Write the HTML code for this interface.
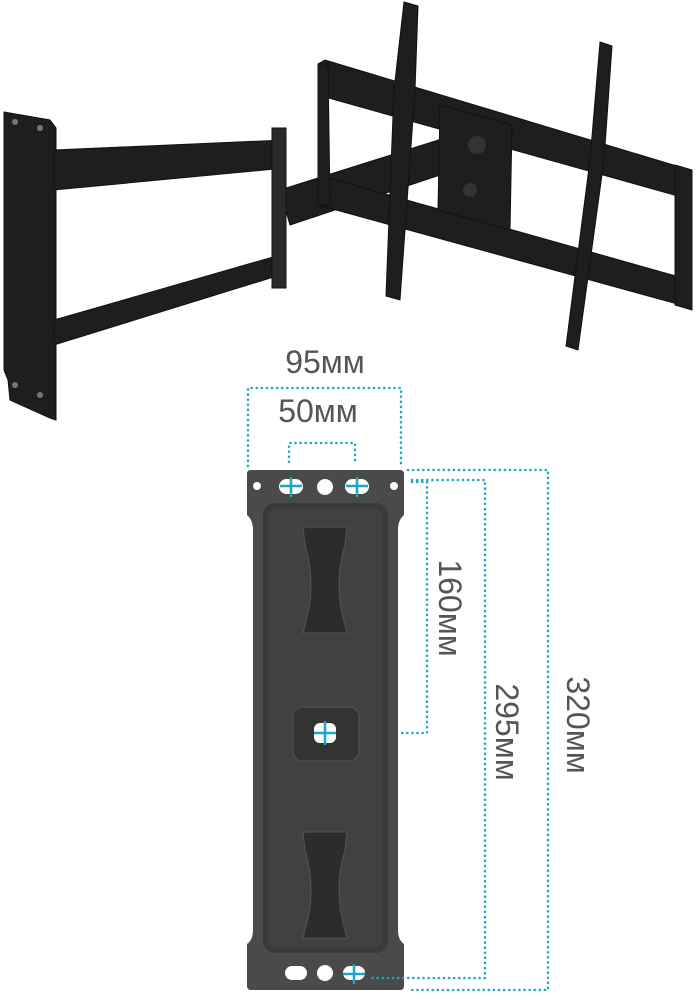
<!DOCTYPE html>
<html><head><meta charset="utf-8"><style>
html,body{margin:0;padding:0;background:#fff;}
svg{display:block;}
text{font-family:"Liberation Sans",sans-serif;fill:#555;font-weight:300;}
</style></head><body>
<svg width="697" height="1000" viewBox="0 0 697 1000" xmlns="http://www.w3.org/2000/svg">
<g fill="#1e1e1e" stroke="#111" stroke-width="1">
  <polygon points="4,112 50,120 56,128 56,420 50,418 10,400 8,380 4,370"/>
  <polygon points="54,150 285,140 285,168 54,190"/>
  <polygon points="54,320 280,255 280,275 54,345"/>
  <polygon points="280,190 470,130 470,165 290,225"/>
  <rect x="272" y="128" width="14" height="160" fill="#2a2a2a"/>
  <polygon points="318,64 325,60 690,170 692,200 318,95"/>
  <polygon points="318,175 690,280 692,308 318,205"/>
  <polygon points="318,64 328,64 330,205 318,205"/>
  <polygon points="675,165 692,170 692,310 675,305"/>
  <polygon points="404,2 418,6 415,90 400,300 386,296 394,90"/>
  <polygon points="600,42 612,46 604,160 578,350 566,346 590,160"/>
  <polygon points="440,105 512,125 510,230 438,210"/>
</g>
<g fill="#777">
  <circle cx="15" cy="122" r="3"/><circle cx="40" cy="128" r="3"/>
  <circle cx="15" cy="385" r="3"/><circle cx="40" cy="395" r="3"/>
  <circle cx="477" cy="145" r="9" fill="#333"/><circle cx="470" cy="190" r="7" fill="#333"/>
</g>
<path d="M247,474 Q247,470 251,470 L400,470 Q404,470 404,474 L404,515 Q398,520 398,530 L398,930 Q398,940 404,944 L404,986 Q404,990 400,990 L251,990 Q247,990 247,986 L247,944 Q253,940 253,930 L253,530 Q253,520 247,515 Z" fill="#4a4a4a"/>
<rect x="263" y="503" width="125" height="450" rx="12" fill="#3a3a3a"/>
<rect x="268" y="508" width="115" height="440" rx="10" fill="#414141"/>
<circle cx="257" cy="486" r="4" fill="#fff"/><circle cx="394" cy="486" r="4" fill="#fff"/>
<circle cx="325" cy="487" r="8" fill="#fff"/>
<rect x="279" y="479" width="24" height="15" rx="7.5" fill="#fff"/>
<rect x="345" y="479" width="24" height="15" rx="7.5" fill="#fff"/>
<circle cx="325" cy="973" r="8" fill="#fff"/>
<rect x="285" y="966" width="22" height="14" rx="7" fill="#fff"/>
<rect x="343" y="966" width="22" height="14" rx="7" fill="#fff"/>
<path d="M303,527 L347,527 L345,545 Q333,585 345,625 L347,633 L303,633 L305,625 Q317,585 305,545 Z" fill="#2c2c2c" stroke="#555"/>
<path d="M303,832 L347,832 L345,850 Q333,890 345,930 L347,938 L303,938 L305,930 Q317,890 305,850 Z" fill="#2c2c2c" stroke="#555"/>
<rect x="293" y="707" width="66" height="54" rx="10" fill="#333" stroke="#555"/>
<rect x="314" y="723" width="22" height="20" rx="6" fill="#fff"/>
<g stroke="#1aa7c6" stroke-width="2.5">
  <line x1="291" y1="477" x2="291" y2="497"/><line x1="280" y1="486" x2="302" y2="486"/>
  <line x1="357" y1="477" x2="357" y2="497"/><line x1="346" y1="486" x2="368" y2="486"/>
  <line x1="325" y1="721" x2="325" y2="745"/><line x1="314" y1="733" x2="336" y2="733"/>
  <line x1="354" y1="964" x2="354" y2="984"/><line x1="343" y1="974" x2="365" y2="974"/>
</g>
<g stroke="#1aa7c6" stroke-width="2.5" fill="none" stroke-dasharray="0.1 5" stroke-linecap="round">
  <polyline points="248,466 248,388 401,388 401,466"/>
  <polyline points="289,462 289,443 355,443 355,462"/>
  <polyline points="408,470 548,470 548,990 408,990"/>
  <polyline points="412,480 485,480 485,978 370,978"/>
  <polyline points="412,482 427,482 427,733 400,733"/>
</g>
<text x="325" y="373" font-size="32" text-anchor="middle">95мм</text>
<text x="318" y="422" font-size="32" text-anchor="middle">50мм</text>
<text transform="translate(439,608) rotate(90)" font-size="32" text-anchor="middle">160мм</text>
<text transform="translate(496,732) rotate(90)" font-size="32" text-anchor="middle">295мм</text>
<text transform="translate(567,725) rotate(90)" font-size="32" text-anchor="middle">320мм</text>
</svg>
</body></html>
